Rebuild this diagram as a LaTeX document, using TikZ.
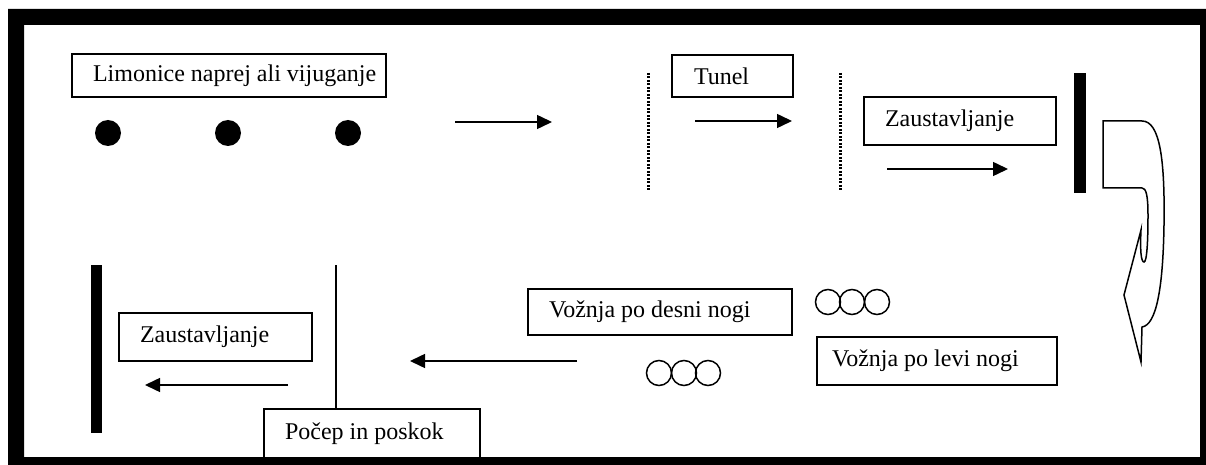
\documentclass[tikz,border=0pt]{standalone}
\usepackage{fontspec}
\setmainfont{Liberation Serif}
\usetikzlibrary{arrows.meta}
\newcommand{\padtext}[3]{\makebox[#1][l]{\hspace*{#2}#3}}
\tikzset{
  box/.style={draw, line width=0.8pt, fill=white, inner xsep=0pt, inner ysep=0pt, font=\fontsize{12pt}{14pt}\selectfont},
  arr/.style={line width=0.75pt, -{Triangle[length=7.5pt,width=7pt]}},
  dotline/.style={line width=1.5pt, dash pattern=on 1pt off 0.75pt},
  bar/.style={fill=black},
  dot/.style={fill=black},
  ring/.style={draw, line width=0.75pt},
}
\begin{document}
\begin{tikzpicture}[x=0.5pt,y=-0.5pt]
\useasboundingbox (0,0) rectangle (1206,465);
\fill[white] (0,0) rectangle (1206,465);
% top row
\node[box, minimum height=21.5pt] (limonice) at (229,75.5) {\padtext{157pt}{10.5pt}{Limonice naprej ali vijuganje}};
\fill[dot] (108,133) circle[radius=6.5pt];
\fill[dot] (228,133) circle[radius=6.5pt];
\fill[dot] (348,133) circle[radius=6.5pt];
\coordinate (a1s) at (455,122); \coordinate (a1e) at (552,122);
\draw[arr] (a1s) -- (a1e);
\coordinate (d1t) at (648,73); \coordinate (d1b) at (648,192);
\coordinate (d2t) at (840,73); \coordinate (d2b) at (840,192);
\draw[dotline] (d1t) -- (d1b);
\draw[dotline] (d2t) -- (d2b);
\node[box, minimum height=21pt] (tunel) at (732.5,76) {\padtext{60.5pt}{11pt}{Tunel}};
\coordinate (a2s) at (695,121); \coordinate (a2e) at (792,121);
\draw[arr] (a2s) -- (a2e);
\node[box, minimum height=24pt] (zaust1) at (960,121) {\padtext{96pt}{10.5pt}{Zaustavljanje}};
\coordinate (a3s) at (887,169); \coordinate (a3e) at (1008,169);
\draw[arr] (a3s) -- (a3e);
\fill[bar] (1074,73) rectangle (1086,193);
% curved arrow
\draw[line width=0.75pt, line join=miter, fill=white]
  (1103,121) -- (1142,121)
  .. controls (1160,121) and (1165,160) .. (1164,225)
  .. controls (1163,290) and (1156,325) .. (1142,327)
  -- (1141,362) -- (1124,295) -- (1141,230)
  .. controls (1140,250) and (1141,262) .. (1144,262)
  .. controls (1147,262) and (1148,240) .. (1148,215)
  .. controls (1148,195) and (1146,188) .. (1142,188)
  -- (1103,188) -- cycle;
% bottom row
\node[box, minimum height=24pt] (levi) at (937,361) {\padtext{120pt}{7.5pt}{Vožnja po levi nogi}};
\draw[ring] (828,302) circle[radius=6.25pt];
\draw[ring] (852,302) circle[radius=6.25pt];
\draw[ring] (877,302) circle[radius=6.25pt];
\node[box, minimum height=23pt] (desni) at (660,312) {\padtext{132pt}{10.5pt}{Vožnja po desni nogi}};
\draw[ring] (659,373) circle[radius=6.25pt];
\draw[ring] (684,373) circle[radius=6.25pt];
\draw[ring] (708,373) circle[radius=6.25pt];
\coordinate (a5s) at (577,361); \coordinate (a5e) at (410,361);
\draw[arr] (a5s) -- (a5e);
\node[box, minimum height=25pt] (pocep) at (372,434) {\padtext{108pt}{10.5pt}{Počep in poskok}};
\coordinate (vtop) at (336,265);
\draw[line width=0.75pt] (vtop) -- (vtop |- pocep.north);
\node[box, minimum height=24pt] (zaust2) at (215.5,337) {\padtext{96.5pt}{10.5pt}{Zaustavljanje}};
\coordinate (a4s) at (288,385); \coordinate (a4e) at (145,385);
\draw[arr] (a4s) -- (a4e);
\fill[bar] (91,265) rectangle (102,433);
% frame
\fill[black, even odd rule] (8,9) rectangle (1206,465) (24,25) rectangle (1200,457);
\end{tikzpicture}
\end{document}
